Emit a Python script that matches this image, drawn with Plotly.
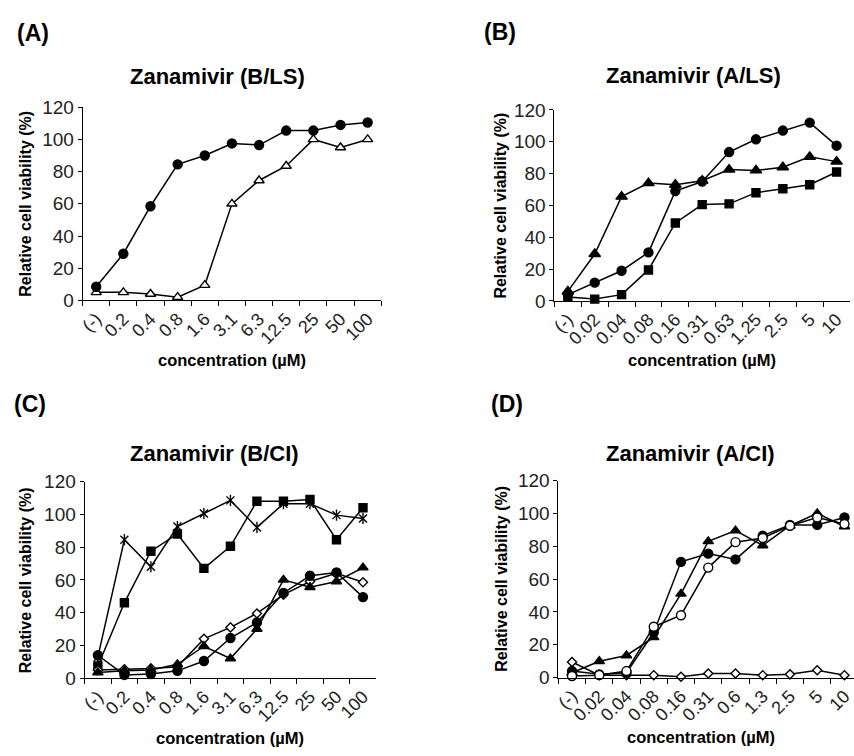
import plotly.graph_objects as go

# Concentration categories (µM)
conc_b = ["(-)", "0.2", "0.4", "0.8", "1.6", "3.1", "6.3", "12.5", "25", "50", "100"]
conc_a_ls = ["(-)", "0.02", "0.04", "0.08", "0.16", "0.31", "0.63", "1.25", "2.5", "5", "10"]
conc_a_ci = ["(-)", "0.02", "0.04", "0.08", "0.16", "0.31", "0.6", "1.3", "2.5", "5", "10"]

# (A) Zanamivir (B/LS)
a_circle = [8.5, 29, 58.5, 84.5, 90, 97.5, 96.5, 105.5, 105.5, 109, 110.5]
a_triangle_open = [5, 5, 4, 2, 9.5, 60, 74.5, 83.5, 100, 95, 100]

# (B) Zanamivir (A/LS)
b_circle = [4, 11.5, 19, 30.5, 69, 75, 93.5, 101.5, 107, 112, 97.5]
b_triangle = [6, 29.5, 65.5, 74, 73, 75.5, 82.5, 82, 84, 90.5, 87.5]
b_square = [2.5, 1.2, 4, 19.5, 49, 60.5, 61, 68, 70.5, 73, 81]

# (C) Zanamivir (B/CI)
c_star = [13, 84.5, 68, 92.5, 100.5, 108.5, 92, 106.5, 106.5, 99.5, 97.5]
c_square = [7.5, 46, 77.5, 88, 67, 80.5, 108, 108, 109, 84.5, 104]
c_diamond = [5, 5.5, 6, 7, 24, 31, 39.5, 51, 59, 64, 58.5]
c_triangle = [3.5, 4.5, 5, 8.5, 19.5, 12, 30, 60, 55.5, 59, 67.5]
c_circle = [14, 2, 2.5, 4.5, 10.5, 24.5, 34, 52, 62.5, 64.5, 49.5]

# (D) Zanamivir (A/CI)
d_diamond = [9.5, 1.5, 1.5, 1.5, 0.5, 2.5, 2.5, 1.5, 2, 4.5, 1.5]
d_triangle = [3, 10, 13.5, 24.5, 51, 83, 89.5, 80.5, 92.5, 100, 92]
d_circle = [4, 2, 3, 27.5, 70.5, 75.5, 72, 86.5, 93, 93, 97.5]
d_circle_open = [1, 1.5, 4, 31, 38, 67, 82.5, 85, 92.5, 97.5, 93.5]

W, H = 854, 756
FONT = "Liberation Sans, Arial, sans-serif"

fig = go.Figure()


def px_x(v):
    return v / W


def px_y(v):
    return 1 - v / H


def add_series(axis_idx, cats, values, symbol, size, filled=True, line=True):
    sfx = "" if axis_idx == 1 else str(axis_idx)
    fig.add_trace(go.Scatter(
        x=cats, y=values,
        mode="lines+markers" if line else "markers",
        xaxis="x" + sfx, yaxis="y" + sfx,
        line=dict(color="black", width=1.5),
        marker=dict(symbol=symbol, size=size,
                    color="black" if filled else "white",
                    line=dict(color="black", width=1.4)),
        cliponaxis=False, showlegend=False, hoverinfo="skip",
    ))


# Panel A
add_series(1, conc_b, a_triangle_open, "triangle-up", 9, filled=False)
add_series(1, conc_b, a_circle, "circle", 9)

# Panel B
add_series(2, conc_a_ls, b_square, "square", 8)
add_series(2, conc_a_ls, b_circle, "circle", 9)
add_series(2, conc_a_ls, b_triangle, "triangle-up", 10)

# Panel C
add_series(3, conc_b, c_star, "x-thin-open", 8)
add_series(3, conc_b, c_star, "line-ns-open", 8, line=False)
add_series(3, conc_b, c_square, "square", 8)
add_series(3, conc_b, c_diamond, "diamond", 7, filled=False)
add_series(3, conc_b, c_triangle, "triangle-up", 9)
add_series(3, conc_b, c_circle, "circle", 9)

# Panel D
add_series(4, conc_a_ci, d_diamond, "diamond", 7, filled=False)
add_series(4, conc_a_ci, d_triangle, "triangle-up", 9)
add_series(4, conc_a_ci, d_circle, "circle", 9)
add_series(4, conc_a_ci, d_circle_open, "circle", 9, filled=False)

# Plot areas in pixels: (left, right, top, bottom, x-range end)
panels = {
    1: (79, 379, 100, 298.7, 10.5),
    2: (553, 850, 102.7, 299.3, 10.5),
    3: (81, 374, 485, 687.3, 10.5),
    4: (557, 854, 484, 686.7, 10.35),
}

layout_axes = {}
for idx, (l, r, t, b, xend) in panels.items():
    sfx = "" if idx == 1 else str(idx)
    layout_axes["xaxis" + sfx] = dict(
        domain=[px_x(l), px_x(r)], anchor="y" + sfx, type="category",
        range=[-0.5, xend], tickson="boundaries", ticks="outside", ticklen=5,
        tickcolor="black", showline=True, linecolor="black", linewidth=1,
        showgrid=False, zeroline=False, tickangle=-45,
        tickfont=dict(family=FONT, size=18, color="#222"),
    )
    layout_axes["yaxis" + sfx] = dict(
        domain=[px_y(b), px_y(t)], anchor="x" + sfx, range=[0, 120],
        tickvals=[0, 20, 40, 60, 80, 100, 120], ticks="outside", ticklen=4,
        tickcolor="black", showline=True, linecolor="black", linewidth=1,
        showgrid=False, zeroline=False,
        tickfont=dict(family=FONT, size=19, color="#222"),
    )

fig.update_layout(
    width=W, height=H,
    margin=dict(l=0, r=0, t=0, b=0),
    paper_bgcolor="white", plot_bgcolor="white",
    **layout_axes,
)

annotations = []


def text(x, y, s, size, angle=0):
    annotations.append(dict(
        x=px_x(x), y=px_y(y), xref="paper", yref="paper", text="<b>" + s + "</b>",
        showarrow=False, xanchor="center", yanchor="middle", textangle=angle,
        font=dict(family=FONT, size=size, color="black"),
    ))


# Panel labels
text(29, 24, "(A)", 23)
text(498, 23, "(B)", 23)
text(26, 405, "(C)", 23)
text(505, 405, "(D)", 23)

# Panel titles
text(215, 68, "Zanamivir (B/LS)", 22)
text(693, 67, "Zanamivir (A/LS)", 22)
text(211, 456, "Zanamivir (B/CI)", 22)
text(690, 456, "Zanamivir (A/CI)", 22)

# Axis titles
for idx, (l, r, t, b, xend) in panels.items():
    yl = {1: 22, 2: 498.5, 3: 21.5, 4: 499}[idx]
    text(yl, (t + b) / 2, "Relative cell viability (%)", 16, angle=-90)
    text((l + r) / 2 if idx != 4 else 700, b + 61, "concentration (µM)", 16.5)

fig.update_layout(annotations=annotations)

fig.write_html("out.html")
